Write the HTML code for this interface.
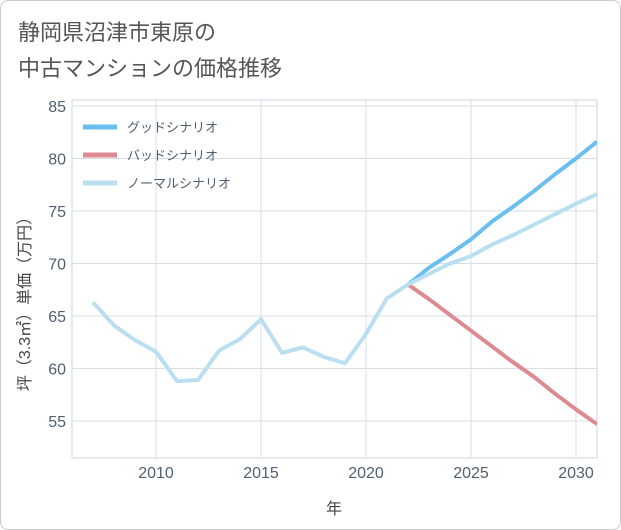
<!DOCTYPE html>
<html><head><meta charset="utf-8"><style>
body{margin:0;background:#fff;font-family:"Liberation Sans","Noto Sans CJK JP",sans-serif;}
#wrap{position:relative;width:619px;height:528px;border:1px solid #ccc;border-radius:8px;overflow:hidden;background:#fff}
</style></head><body>
<div id="wrap">
<svg id="chart" width="621" height="530" style="position:absolute;left:-1px;top:-1px">
<text x="18" y="40" font-size="22" fill="#555" font-family="Liberation Sans,Noto Sans CJK JP,sans-serif">静岡県沼津市東原の</text>
<text x="18" y="76" font-size="22" fill="#555" font-family="Liberation Sans,Noto Sans CJK JP,sans-serif">中古マンションの価格推移</text>
<g id="grid"></g><g id="axes"></g><g id="series"></g><g id="legend"></g>
<text x="334" y="514" font-size="16" fill="#444" text-anchor="middle" font-family="Liberation Sans,Noto Sans CJK JP,sans-serif">年</text>
<text transform="translate(30,300) rotate(-90)" font-size="16" fill="#444" text-anchor="middle" font-family="Liberation Sans,Noto Sans CJK JP,sans-serif">坪（3.3㎡）単価（万円）</text>
</svg>
</div>
<script>
const years=[2007,2008,2009,2010,2011,2012,2013,2014,2015,2016,2017,2018,2019,2020,2021,2022,2023,2024,2025,2026,2027,2028,2029,2030,2031];
const normal=[66.3,64.1,62.7,61.6,58.8,58.9,61.7,62.8,64.7,61.5,62.0,61.1,60.5,63.3,66.7,68.0,69.0,70.0,70.7,71.8,72.7,73.7,74.7,75.7,76.6];
const futureYears=[2022,2023,2024,2025,2026,2027,2028,2029,2030,2031];
const good=[68.0,69.6,70.9,72.3,74.0,75.4,76.9,78.5,80.0,81.6];
const bad=[68.0,66.6,65.1,63.6,62.1,60.6,59.2,57.6,56.1,54.7];
const xTicks=[2010,2015,2020,2025,2030];
const yTicks=[55,60,65,70,75,80,85];
const L=72,R=597,T=100,B=458;
const x=v=>156+(v-2010)*21;
const y=v=>421-(v-55)*10.5;
const NS="http://www.w3.org/2000/svg";
function mk(tag,parent,attrs){const e=document.createElementNS(NS,tag);for(const k in attrs)e.setAttribute(k,attrs[k]);parent.appendChild(e);return e;}
const grid=document.getElementById('grid'),axes=document.getElementById('axes'),ser=document.getElementById('series'),leg=document.getElementById('legend');
let r=mk('rect',grid,{x:L,y:T,width:R-L,height:B-T,fill:'none',stroke:'#c8d4e0'});


xTicks.forEach(t=>{
 let l=mk('line',grid,{x1:x(t),x2:x(t),y1:T,y2:B,stroke:'#d5dfe8'});
 
 
 let tx=mk('text',axes,{x:x(t),y:478,'font-size':16,fill:'#506070','text-anchor':'middle'});tx.textContent=t;
 
 
});
yTicks.forEach(t=>{
 let l=mk('line',grid,{x1:L,x2:R,y1:y(t),y2:y(t),stroke:'#d5dfe8'});
 
 
 let tx=mk('text',axes,{x:66,y:y(t)+6,'font-size':16,fill:'#506070','text-anchor':'end'});tx.textContent=t;
 
 
});
function line(xs,ys,color,name){
 const d=xs.map((v,i)=>(i?'L':'M')+x(v)+','+y(ys[i])).join(' ');
 let p=mk('path',ser,{d:d,fill:'none',stroke:color,'stroke-width':4,'stroke-linejoin':'round','clip-path':'url(#clip)'});
 
 
}
const defs=mk('defs',ser,{});const cp=mk('clipPath',defs,{id:'clip'});mk('rect',cp,{x:L,y:T,width:R-L,height:B-T});
line(futureYears,bad,'#de8a92','bad-scenario-line');
line(futureYears,good,'#6bbff0','good-scenario-line');
line(years,normal,'#b9dff0','normal-scenario-line');
[['グッドシナリオ','#6bbff0',127],['バッドシナリオ','#de8a92',155],['ノーマルシナリオ','#b9dff0',183]].forEach(([n,c,yy])=>{
 let l=mk('line',leg,{x1:83,x2:117,y1:yy,y2:yy,stroke:c,'stroke-width':5});
 
 
 let t=mk('text',leg,{x:127,y:yy+5,'font-size':13,fill:'#506070'});t.textContent=n;
 
 
});
</script>
</body></html>
